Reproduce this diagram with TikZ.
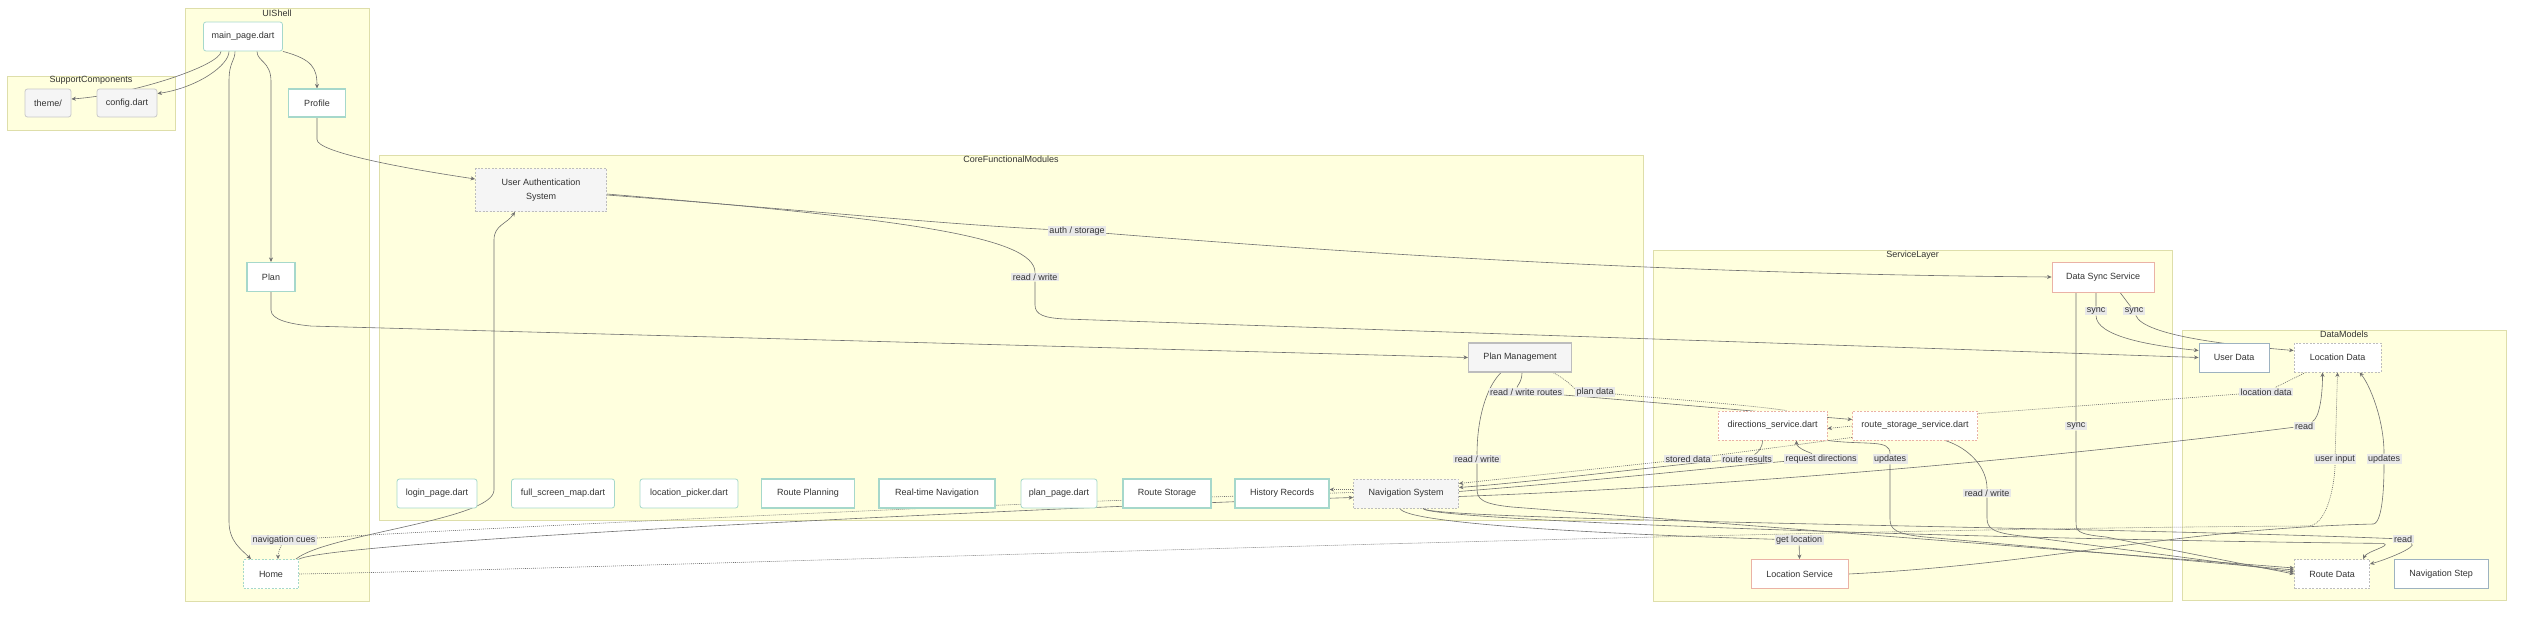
\documentclass[tikz,border=0pt]{standalone}
\usepackage{fontspec}
\setmainfont{Liberation Sans}
\usetikzlibrary{arrows.meta}

\definecolor{clusterfill}{HTML}{FFFFDE}
\definecolor{clusterline}{HTML}{DEDEAA}
\definecolor{uiteal}{HTML}{A6D8CB}
\definecolor{coregray}{HTML}{F5F5F5}
\definecolor{coreline}{HTML}{BDBDBD}
\definecolor{supline}{HTML}{C8C8C8}
\definecolor{svcpink}{HTML}{EAB2A6}
\definecolor{datablue}{HTML}{9DB2C0}
\definecolor{labelgray}{HTML}{E8E8E8}
\definecolor{edgegray}{HTML}{707070}
\definecolor{textgray}{HTML}{333333}

\pgfdeclarelayer{bg}
\pgfdeclarelayer{mid}
\pgfsetlayers{bg,mid,main}

\tikzset{
  box/.style={rectangle,minimum height=29,inner sep=0pt,text=textgray,font=\fontsize{9}{11}\selectfont},
  uinode/.style={box,draw=uiteal,fill=white,line width=1.1pt},
  uifile/.style={box,draw=uiteal,fill=white,line width=0.8pt,rounded corners=2.5pt},
  supnode/.style={box,draw=supline,fill=coregray,line width=0.8pt,rounded corners=2.5pt},
  corenode/.style={box,draw=coreline,fill=coregray,line width=0.8pt},
  svcnode/.style={box,draw=svcpink,fill=white,line width=0.9pt},
  datanode/.style={box,draw=datablue,fill=white,line width=1pt},
  dashedbox/.style={dash pattern=on 2pt off 1.5pt},
  cluster/.style={draw=clusterline,fill=clusterfill,line width=1pt,inner sep=0pt},
  ctitle/.style={anchor=north,inner sep=1pt,text=textgray,font=\fontsize{9}{11}\selectfont},
  elabel/.style={fill=labelgray,inner xsep=1.5pt,inner ysep=1pt,text=textgray,font=\fontsize{9}{11}\selectfont},
  edge/.style={draw=edgegray,line width=0.6pt,-{Stealth[length=4.5pt,width=4pt]}},
  dotedge/.style={edge,dash pattern=on 1pt off 1pt},
  dotline/.style={draw=edgegray,line width=0.6pt,dash pattern=on 1pt off 1pt}
}

\begin{document}
\begin{tikzpicture}[x=1pt,y=-1pt]
\useasboundingbox (0,0) rectangle (2523,618);

% subgraphs
\begin{pgfonlayer}{bg}
\node[cluster,minimum width=168,minimum height=54] (support) at (91,103) {};
\node[cluster,minimum width=184,minimum height=592] (uishell) at (277,305) {};
\node[cluster,minimum width=1264,minimum height=365] (core) at (1011,337.5) {};
\node[cluster,minimum width=519,minimum height=351] (service) at (1912.5,425.5) {};
\node[cluster,minimum width=324,minimum height=270] (datamodels) at (2344,465) {};
\end{pgfonlayer}
\node[ctitle] at (support.north) {SupportComponents};
\node[ctitle] at (uishell.north) {UIShell};
\node[ctitle] at (core.north) {CoreFunctionalModules};
\node[ctitle] at (service.north) {ServiceLayer};
\node[ctitle] at (datamodels.north) {DataModels};

% UIShell and support
\node[uifile,minimum width=79] (main) at (243,36.5) {main\_page.dart};
\node[supnode,minimum width=46,minimum height=28] (theme) at (48,103) {theme/};
\node[supnode,minimum width=60,minimum height=28] (config) at (127,103) {config.dart};
\node[uinode,minimum width=57,minimum height=28] (profile) at (317,103) {Profile};
\node[uinode,minimum width=48] (plan) at (271,277) {Plan};
\node[uinode,dashedbox,line width=0.8pt,minimum width=55] (home) at (271,574) {Home};

% core modules
\node[corenode,dashedbox,minimum width=131,minimum height=43,align=center,font=\fontsize{9}{14}\selectfont] (auth) at (541,190) {User Authentication\\System};
\node[corenode,line width=1.1pt,minimum width=103] (planmgmt) at (1520,357.5) {Plan Management};
\node[corenode,dashedbox,minimum width=105] (navsys) at (1406,493.5) {Navigation System};
\node[uifile,minimum width=80] (login) at (437,493.5) {login\_page.dart};
\node[uifile,minimum width=103] (fullmap) at (563,493.5) {full\_screen\_map.dart};
\node[uifile,minimum width=98] (locpicker) at (689,493.5) {location\_picker.dart};
\node[uinode,minimum width=93] (routeplan) at (808,493.5) {Route Planning};
\node[uinode,minimum width=116] (realtime) at (937,493.5) {Real-time Navigation};
\node[uifile,minimum width=76] (planpage) at (1059,493.5) {plan\_page.dart};
\node[uinode,minimum width=88] (routestore) at (1167,493.5) {Route Storage};
\node[uinode,minimum width=94] (history) at (1282,493.5) {History Records};

% services
\node[svcnode,minimum width=102,minimum height=30] (datasync) at (2103,277) {Data Sync Service};
\node[svcnode,dashedbox,minimum width=109] (directions) at (1772.5,425.5) {directions\_service.dart};
\node[svcnode,dashedbox,minimum width=125] (rss) at (1915,425.5) {route\_storage\_service.dart};
\node[svcnode,minimum width=97] (locsvc) at (1799.5,574) {Location Service};

% data models
\node[datanode,minimum width=70] (userdata) at (2234,357.5) {User Data};
\node[corenode,dashedbox,fill=white,minimum width=87] (locdata) at (2337.5,357.5) {Location Data};
\node[corenode,dashedbox,fill=white,minimum width=75] (routedata) at (2332,574) {Route Data};
\node[datanode,minimum width=94] (navstep) at (2441,574) {Navigation Step};

% edge labels
\node[elabel] (l-cues) at (284,540) {navigation cues};
\node[elabel] (l-authstore) at (1077,231) {auth / storage};
\node[elabel] (l-rw1) at (1035,277) {read / write};
\node[elabel] (l-rwroutes) at (1526,392) {read / write routes};
\node[elabel] (l-plandata) at (1595,392) {plan data};
\node[elabel] (l-rw2) at (1477,459) {read / write};
\node[elabel] (l-stored) at (1688,459) {stored data};
\node[elabel] (l-results) at (1747,459) {route results};
\node[elabel] (l-request) at (1821,459) {request directions};
\node[elabel] (l-upd1) at (1890,459) {updates};
\node[elabel] (l-rw3) at (1987,493) {read / write};
\node[elabel] (l-sync1) at (2096,311) {sync};
\node[elabel] (l-sync2) at (2134,311) {sync};
\node[elabel] (l-sync3) at (2076,426) {sync};
\node[elabel] (l-locdata) at (2266,392) {location data};
\node[elabel] (l-read1) at (2304,426) {read};
\node[elabel] (l-input) at (2335,459) {user input};
\node[elabel] (l-upd2) at (2384,459) {updates};
\node[elabel] (l-read2) at (2403,539) {read};
\node[elabel] (l-getloc) at (1799,540) {get location};

% connectors
\begin{pgfonlayer}{mid}
\draw[edge] ([xshift=-22]main.south) .. controls +(0,14) and +(60,-4) .. ([yshift=4]theme.east);
\draw[edge] ([xshift=-14]main.south) .. controls +(0,14) and +(40,-6) .. ([yshift=-5]config.north east);
\draw[edge] (main.south east) .. controls +(30,8) and +(0,-20) .. (profile.north);
\draw[edge] ([xshift=14]main.south) .. controls +(0,10) and +(0,-20) .. ++(14,30) -- (plan.north);
\draw[edge] ([xshift=-8]main.south) .. controls +(0,10) and +(0,-20) .. ++(-6,30) -- ++(0,440) .. controls +(0,20) and +(-10,-10) .. ([xshift=-20]home.north);
\draw[edge] (profile.south) -- ++(0,22) .. controls +(0,12) and +(-80,-12) .. ([yshift=11]auth.west);
\draw[edge] (plan.south) -- ++(0,18) .. controls +(0,10) and +(-20,-2) .. ++(40,16) -- (planmgmt.west);
\draw[edge] ([xshift=-3]home.north east) .. controls +(30,-25) and +(0,30) .. (494,490) -- (494,240) .. controls +(0,-15) and +(-8,12) .. ([xshift=-26]auth.south);
\draw[edge] (home.north east) .. controls +(40,-20) and +(-200,6) .. ([yshift=-4]navsys.west);
\draw[dotedge] ([yshift=1]navsys.west) .. controls +(-300,8) and +(200,-12) .. (l-cues) .. controls +(-4,8) and +(0,-6) .. ([xshift=7]home.north);
\draw[dotedge] ([yshift=4]navsys.west) -- ([yshift=4]history.east);
\draw[edge] ([yshift=-5]auth.east) .. controls +(200,15) and +(-150,-8) .. (l-authstore) .. controls +(250,20) and +(-400,-3) .. (datasync.west);
\draw[edge] ([yshift=-4]auth.east) .. controls +(300,25) and +(0,-40) .. (l-rw1) -- ++(0,28) .. controls +(0,10) and +(-20,-1) .. ++(30,14) -- (userdata.west);
\draw[edge] ([xshift=-7]datasync.south) -- (l-sync1) .. controls +(0,25) and +(-50,-5) .. ([yshift=7]userdata.west);
\draw[edge] ([xshift=17]datasync.south) -- (l-sync2) .. controls +(10,25) and +(-60,-5) .. ([yshift=7]locdata.west);
\draw[edge] ([xshift=-27]datasync.south) -- (l-sync3) -- ++(0,95) .. controls +(0,10) and +(-30,-3) .. ++(30,16) -- (routedata.west);
\draw[edge] ([xshift=2]planmgmt.south) .. controls +(0,10) and +(-10,-5) .. (l-rwroutes) .. controls +(100,8) and +(-60,-5) .. ([yshift=6]rss.west);
\draw[dotline] ([xshift=33]planmgmt.south) .. controls +(15,8) and +(-20,-3) .. (l-plandata) .. controls +(60,6) and +(-40,-6) .. ([xshift=14]directions.north);
\draw[dotedge] ([xshift=12]locdata.south west) -- (l-locdata) -- ([yshift=-3]rss.north east) -- ([yshift=-3]directions.east);
\draw[edge] ([xshift=-19]planmgmt.south) .. controls +(-15,15) and +(0,-40) .. (l-rw2) -- ++(0,30) .. controls +(0,10) and +(-30,-3) .. ++(35,18) -- ([yshift=6]routedata.west);
\draw[edge] ([xshift=-10]directions.south) .. controls +(0,8) and +(10,-6) .. (l-results) .. controls +(-60,4) and +(80,-6) .. ([yshift=6]navsys.east);
\draw[edge] ([yshift=2]navsys.east) .. controls +(150,-12) and +(-60,4) .. (l-request) .. controls +(-10,-6) and +(0,8) .. ([xshift=24]directions.south);
\draw[dotedge] ([yshift=3]rss.south west) -- (l-stored) -- ([yshift=10]navsys.east);
\draw[edge] (directions.south east) .. controls +(40,5) and +(0,-20) .. (l-upd1) -- ++(0,60) .. controls +(0,10) and +(-30,-3) .. ++(35,18) -- ([yshift=4]routedata.west);
\draw[edge] ([xshift=30]rss.south) .. controls +(25,8) and +(0,-25) .. (l-rw3) -- ++(0,25) .. controls +(0,10) and +(-30,-3) .. ++(35,18) -- ([yshift=2]routedata.west);
\draw[edge] ([xshift=-6]navsys.south) .. controls +(5,15) and +(-200,-6) .. (l-getloc) -- (locsvc.north);
\draw[edge] ([xshift=17]navsys.south) .. controls +(0,12) and +(-300,-12) .. (l-read2) .. controls +(15,8) and +(15,-4) .. ([yshift=10]routedata.east);
\draw[edge] ([xshift=17]navsys.south) .. controls +(0,12) and +(-400,-4) .. ++(960,35) .. controls +(10,2) and +(4,-8) .. ([xshift=31]routedata.north);
\draw[edge] ([yshift=-3]navsys.east) .. controls +(400,-15) and +(-80,10) .. (l-read1) .. controls +(15,-8) and +(0,25) .. ([xshift=-15]locdata.south);
\draw[dotedge] (home.east) .. controls +(300,-5) and +(-600,3) .. ++(2010,-48) .. controls +(20,-2) and +(0,20) .. (l-input) -- (locdata.south);
\draw[edge] (locsvc.east) .. controls +(200,-10) and +(-200,5) .. ++(525,-50) .. controls +(10,-2) and +(0,20) .. (l-upd2) .. controls +(0,-40) and +(10,12) .. ([xshift=22]locdata.south);
\end{pgfonlayer}
\end{tikzpicture}
\end{document}
